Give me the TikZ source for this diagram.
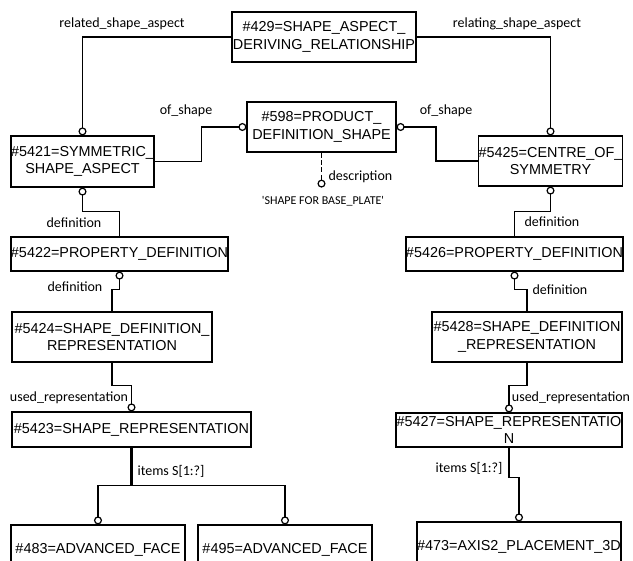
\documentclass[tikz,border=0pt]{standalone}
\usepackage{fontspec}
\setmainfont{Liberation Sans}
\newfontfamily\lblfont{Carlito}
\usetikzlibrary{arrows.meta,calc}

\begin{document}
\begin{tikzpicture}[x=0.5pt,y=-0.5pt,line width=0.6pt,
  >={Circle[open,length=4pt]}]
\tikzstyle{ent}=[draw,inner sep=0pt,align=center,font=\fontsize{7.2}{8.8}\selectfont]
\tikzstyle{lbl}=[inner sep=0pt,font=\lblfont\fontsize{7}{8}\selectfont]
\useasboundingbox (0,0) rectangle (633,561);
\clip (0,0) rectangle (633,561);
% entities
\node[ent,minimum width=92pt,minimum height=25pt] (e429) at (324,37) {\#429=SHAPE\_ASPECT\_\\DERIVING\_RELATIONSHIP};
\node[ent,minimum width=74.5pt,minimum height=25pt] (e598) at (321.5,127) {\#598=PRODUCT\_\\DEFINITION\_SHAPE};
\node[ent,minimum width=70.5pt,minimum height=25.5pt] (e5421) at (82.5,161.5) {\#5421=SYMMETRIC\_\\SHAPE\_ASPECT};
\node[ent,minimum width=71.5pt,minimum height=25pt] (e5425) at (550.5,161) {\#5425=CENTRE\_OF\_\\SYMMETRY};
\node[ent,minimum width=107.5pt,minimum height=17pt] (e5422) at (119.5,254) {\#5422=PROPERTY\_DEFINITION};
\node[ent,minimum width=107.5pt,minimum height=17pt] (e5426) at (514.5,254) {\#5426=PROPERTY\_DEFINITION};
\node[ent,minimum width=100pt,minimum height=25pt] (e5424) at (112,337) {\#5424=SHAPE\_DEFINITION\_\\REPRESENTATION};
\node[ent,minimum width=95pt,minimum height=25pt] (e5428) at (527,337) {\#5428=SHAPE\_DEFINITION\\\_REPRESENTATION};
\node[ent,minimum width=119.5pt,minimum height=17.5pt] (e5423) at (131.5,429.5) {\#5423=SHAPE\_REPRESENTATION};
\node[ent,minimum width=113pt,minimum height=17pt] (e5427) at (509,430) {\#5427=SHAPE\_REPRESENTATIO\\N};
\node[ent,minimum width=87pt,minimum height=25pt] (e483) at (98,550) {\#483=ADVANCED\_FACE};
\node[ent,minimum width=87pt,minimum height=25pt] (e495) at (285,550) {\#495=ADVANCED\_FACE};
\node[ent,minimum width=102pt,minimum height=25pt] (e473) at (519,547) {\#473=AXIS2\_PLACEMENT\_3D};
% relations
\draw[->] (e429.west) -| (e5421.north);
\draw[->] (e429.east) -| (e5425.north);
\draw[->] (e5421.east) -- ++(47,0) |- (e598.west);
\draw[->] (e5425.west) -- ++(-42,0) |- (e598.east);
\coordinate (desc) at ($(e598.south)+(0,35)$);
\draw[->,dash pattern=on 2.5pt off 1.2pt] (e598.south) -- (desc);
\draw[->] (e5422.north) -- ++(0,-25) -| (e5421.south);
\draw[->] (e5424.north) -- ++(0,-22) -| (e5422.south);
\draw[->] (e5424.south) -- ++(0,23) -| (e5423.north);
\coordinate (branch) at ($(e5423.south)+(0,38)$);
\draw[line width=1.4pt] (e5423.south) -- (branch);
\draw[->] (branch) -| (e483.north);
\draw[->] (branch) -| (e495.north);
\draw[->] (e5426.north) -- ++(0,-25) -| (e5425.south);
\draw[->] (e5428.north) -- ++(0,-22) -| (e5426.south);
\draw[->] (e5428.south) -- ++(0,23) -| (e5427.north);
\draw[->] (e5427.south) -- ++(0,30) -| (e473.north);
% labels
\node[lbl] (l1) at (122,24) {related\_shape\_aspect};
\node[lbl] (l2) at (517,24) {relating\_shape\_aspect};
\node[lbl] (l3) at (186,111) {of\_shape};
\node[lbl] (l4) at (446,111) {of\_shape};
\node[lbl,anchor=west] (l5) at (328,177) {description};
\node[lbl,font=\lblfont\fontsize{6}{7}\selectfont] (l6) at (323,201) {'SHAPE FOR BASE\_PLATE'};
\node[lbl] (l7) at (74,223) {definition};
\node[lbl] (l8) at (75,287) {definition};
\node[lbl] (l9) at (552,222) {definition};
\node[lbl] (l10) at (560,290) {definition};
\node[lbl] (l11) at (69,398) {used\_representation};
\node[lbl] (l12) at (571,398) {used\_representation};
\node[lbl] (l13) at (171,471) {items S[1:?]};
\node[lbl] (l14) at (469,468) {items S[1:?]};
\end{tikzpicture}
\end{document}
